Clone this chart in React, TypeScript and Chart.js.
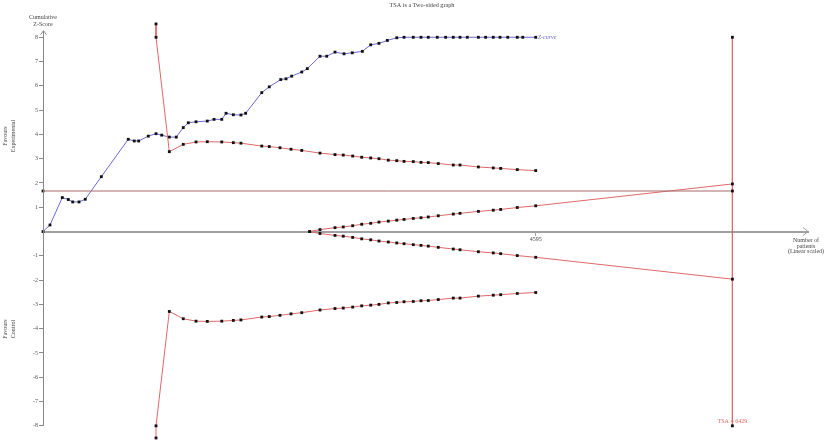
import React, { useEffect, useRef } from "react";
import { Chart, registerables } from "chart.js";

Chart.register(...registerables);

// ---- Data (patients on x, cumulative Z on y) ----
const zPatients = [
  0, 65, 180, 236, 277, 336, 394, 544, 795, 851, 892, 982, 1054, 1107, 1178, 1243,
  1308, 1355, 1427, 1532, 1595, 1667, 1707, 1775, 1846, 1890, 2040, 2110, 2217, 2266,
  2319, 2413, 2465, 2583, 2646, 2723, 2807, 2884, 2978, 3056, 3133, 3211, 3299, 3367,
  3453, 3525, 3593, 3677, 3755, 3826, 3889, 3957, 4060, 4128, 4199, 4262, 4334, 4423,
  4474, 4595,
];
const zScores = [
  0, 0.27, 1.4, 1.32, 1.22, 1.22, 1.33, 2.26, 3.8, 3.73, 3.73, 3.93, 4.03, 3.97, 3.89, 3.89,
  4.28, 4.48, 4.52, 4.55, 4.62, 4.62, 4.87, 4.81, 4.8, 4.87, 5.72, 5.96, 6.26, 6.29,
  6.4, 6.57, 6.71, 7.22, 7.22, 7.39, 7.32, 7.36, 7.42, 7.69, 7.75, 7.87, 7.98, 8,
  8, 8, 8, 8, 8, 8, 8, 8, 8, 8, 8, 8, 8, 8,
  8, 8,
];

const boundPatients = [
  1054, 1054, 1178, 1308, 1427, 1532, 1667, 1775, 1846, 2040, 2110, 2210, 2313, 2413,
  2583, 2723, 2800, 2888, 2972, 3056, 3133, 3220, 3299, 3367, 3453, 3525, 3593, 3686,
  3826, 3889, 4060, 4199, 4268, 4423, 4595,
];
const upperBound = [
  8.55, 8, 3.29, 3.59, 3.69, 3.7, 3.69, 3.66, 3.64, 3.52, 3.5, 3.45, 3.39, 3.34,
  3.23, 3.17, 3.15, 3.11, 3.06, 3.03, 3.0, 2.94, 2.92, 2.89, 2.88, 2.85, 2.84, 2.8,
  2.74, 2.74, 2.66, 2.62, 2.6, 2.55, 2.51,
];
const lowerBound = [
  -8.5, -8, -3.29, -3.59, -3.69, -3.7, -3.69, -3.66, -3.64, -3.52, -3.5, -3.45, -3.39, -3.34,
  -3.23, -3.17, -3.15, -3.11, -3.06, -3.03, -3.0, -2.94, -2.92, -2.89, -2.88, -2.85, -2.84, -2.8,
  -2.74, -2.74, -2.66, -2.62, -2.6, -2.55, -2.51,
];

const futPatients = [
  2487, 2583, 2723, 2800, 2888, 2972, 3056, 3133, 3220, 3299, 3367, 3453, 3525, 3593,
  3686, 3826, 3889, 4060, 4199, 4268, 4423, 4595, 6429,
];
const futUpper = [
  0, 0.08, 0.16, 0.19, 0.24, 0.3, 0.34, 0.39, 0.43, 0.47, 0.5, 0.54, 0.57, 0.6,
  0.65, 0.72, 0.75, 0.83, 0.88, 0.91, 0.99, 1.06, 1.96,
];
const futLower = [
  0, -0.08, -0.16, -0.19, -0.24, -0.3, -0.34, -0.39, -0.43, -0.47, -0.5, -0.54, -0.57, -0.6,
  -0.65, -0.72, -0.75, -0.83, -0.88, -0.91, -0.99, -1.06, -1.96,
];

const convPatients = [0, 6429];
const convZ = [1.67, 1.67];

const tsaPatients = [6429, 6429];
const tsaZ = [8, -8];

const yTickValues = [-8, -7, -6, -5, -4, -3, -2, -1, 1, 2, 3, 4, 5, 6, 7, 8];
const xTickValues = [4595];
const yAxisTop = 8.27;

const FONT = "'Liberation Serif', 'Times New Roman', serif";
const BLUE = "#6a6ad4";
const RED = "#e06868";
const CONV = "#a86a6a";
const AXIS = "#a0a0a0";

const pts = (xs: number[], ys: number[]) => xs.map((x, i) => ({ x, y: ys[i] }));

const decorPlugin = {
  id: "decor",
  afterDraw(chart: any) {
    const { ctx, chartArea, scales } = chart;
    const xs = scales.x;
    const ys = scales.y;
    const x0 = xs.getPixelForValue(0);
    const y0 = ys.getPixelForValue(0);
    const yTop = ys.getPixelForValue(yAxisTop);
    const yBot = ys.getPixelForValue(-8);
    ctx.save();
    // y axis line + arrow
    ctx.strokeStyle = "#888";
    ctx.lineWidth = 1;
    ctx.beginPath();
    ctx.moveTo(x0 + 0.5, yBot);
    ctx.lineTo(x0 + 0.5, yTop);
    ctx.stroke();
    ctx.beginPath();
    ctx.moveTo(x0 - 2.5, yTop + 4);
    ctx.lineTo(x0 + 0.5, yTop);
    ctx.lineTo(x0 + 3.5, yTop + 4);
    ctx.stroke();
    // x arrow
    ctx.strokeStyle = AXIS;
    ctx.beginPath();
    ctx.moveTo(chartArea.right - 5, y0 - 4);
    ctx.lineTo(chartArea.right, y0);
    ctx.lineTo(chartArea.right - 5, y0 + 4);
    ctx.stroke();

    ctx.fillStyle = "#444";
    ctx.textAlign = "center";
    ctx.textBaseline = "middle";
    ctx.font = `6.2px ${FONT}`;
    ctx.fillText("TSA is a Two-sided graph", 422, 5);

    ctx.font = `6px ${FONT}`;
    ctx.fillText("Cumulative", x0, 17.5);
    ctx.fillText("Z-Score", x0, 24.5);

    const xr = chartArea.right - 2;
    ctx.fillText("Number of", xr, y0 + 9);
    ctx.fillText("patients", xr, y0 + 14.5);
    ctx.fillText("(Linear scaled)", xr, y0 + 20);

    const rot = (lines: string[], cx: number, cy: number) => {
      ctx.save();
      ctx.translate(cx, cy);
      ctx.rotate(-Math.PI / 2);
      ctx.fillText(lines[0], 0, -4);
      ctx.fillText(lines[1], 0, 4);
      ctx.restore();
    };
    rot(["Favours", "Experimental"], 9, 136);
    rot(["Favours", "Control"], 9, 329);

    ctx.fillStyle = BLUE;
    ctx.textAlign = "left";
    ctx.font = `italic 6px ${FONT}`;
    ctx.fillText("Z-curve", xs.getPixelForValue(4595) + 2, ys.getPixelForValue(8));

    ctx.fillStyle = RED;
    ctx.textAlign = "center";
    ctx.font = `6px ${FONT}`;
    ctx.fillText("TSA = 6429", xs.getPixelForValue(6429), ys.getPixelForValue(-8) - 4);
    ctx.restore();
  },
};

export default function App() {
  const ref = useRef<HTMLCanvasElement>(null);
  useEffect(() => {
    if (!ref.current) return;
    const common = {
      showLine: true,
      borderWidth: 1,
      pointStyle: "rect" as const,
      pointRadius: 2,
      pointBackgroundColor: "#111",
      pointBorderColor: "#111",
      pointBorderWidth: 0,
      clip: false as any,
      tension: 0,
    };
    const chart = new Chart(ref.current, {
      type: "scatter",
      data: {
        datasets: [
          { ...common, label: "Conventional", data: pts(convPatients, convZ), borderColor: CONV },
          { ...common, label: "Upper boundary", data: pts(boundPatients, upperBound), borderColor: RED },
          { ...common, label: "Lower boundary", data: pts(boundPatients, lowerBound), borderColor: RED },
          { ...common, label: "Futility upper", data: pts(futPatients, futUpper), borderColor: RED },
          { ...common, label: "Futility lower", data: pts(futPatients, futLower), borderColor: RED },
          { ...common, label: "TSA", data: pts(tsaPatients, tsaZ), borderColor: RED },
          { ...common, label: "Z-curve", data: pts(zPatients, zScores), borderColor: BLUE },
        ],
      },
      options: {
        animation: false,
        responsive: false,
        maintainAspectRatio: false,
        events: [],
        layout: { padding: { top: 21.5, bottom: 3.7, right: 17, left: 0 } },
        plugins: {
          legend: { display: false },
          title: { display: false },
          tooltip: { enabled: false },
        },
        scales: {
          x: {
            type: "linear",
            min: 0,
            max: 7134,
            position: { y: 0 } as any,
            afterBuildTicks: (scale: any) => {
              scale.ticks = xTickValues.map((v) => ({ value: v }));
            },
            ticks: {
              font: { family: FONT, size: 6 },
              color: "#444",
              padding: 1,
              maxRotation: 0,
              autoSkip: false,
              callback: (v: any) => String(v),
            },
            grid: { drawOnChartArea: false, drawTicks: true, tickLength: 3, color: AXIS },
            border: { display: true, color: AXIS, width: 2 },
          },
          y: {
            type: "linear",
            min: -8.6,
            max: 8.65,
            position: "left",
            afterBuildTicks: (scale: any) => {
              scale.ticks = yTickValues.map((v) => ({ value: v }));
            },
            afterFit: (scale: any) => {
              scale.width = 43;
            },
            ticks: {
              font: { family: FONT, size: 6 },
              color: "#555",
              padding: 1,
              autoSkip: false,
              callback: (v: any) => String(v),
            },
            grid: { drawOnChartArea: false, drawTicks: true, tickLength: 4, color: "#888" },
            border: { display: false },
          },
        },
      },
      plugins: [decorPlugin],
    });
    return () => chart.destroy();
  }, []);
  return (
    <div style={{ position: "fixed", left: 0, top: 0, width: 825, height: 445, background: "#fff" }}>
      <canvas ref={ref} width={825} height={445} style={{ width: 825, height: 445, display: "block" }} />
    </div>
  );
}
